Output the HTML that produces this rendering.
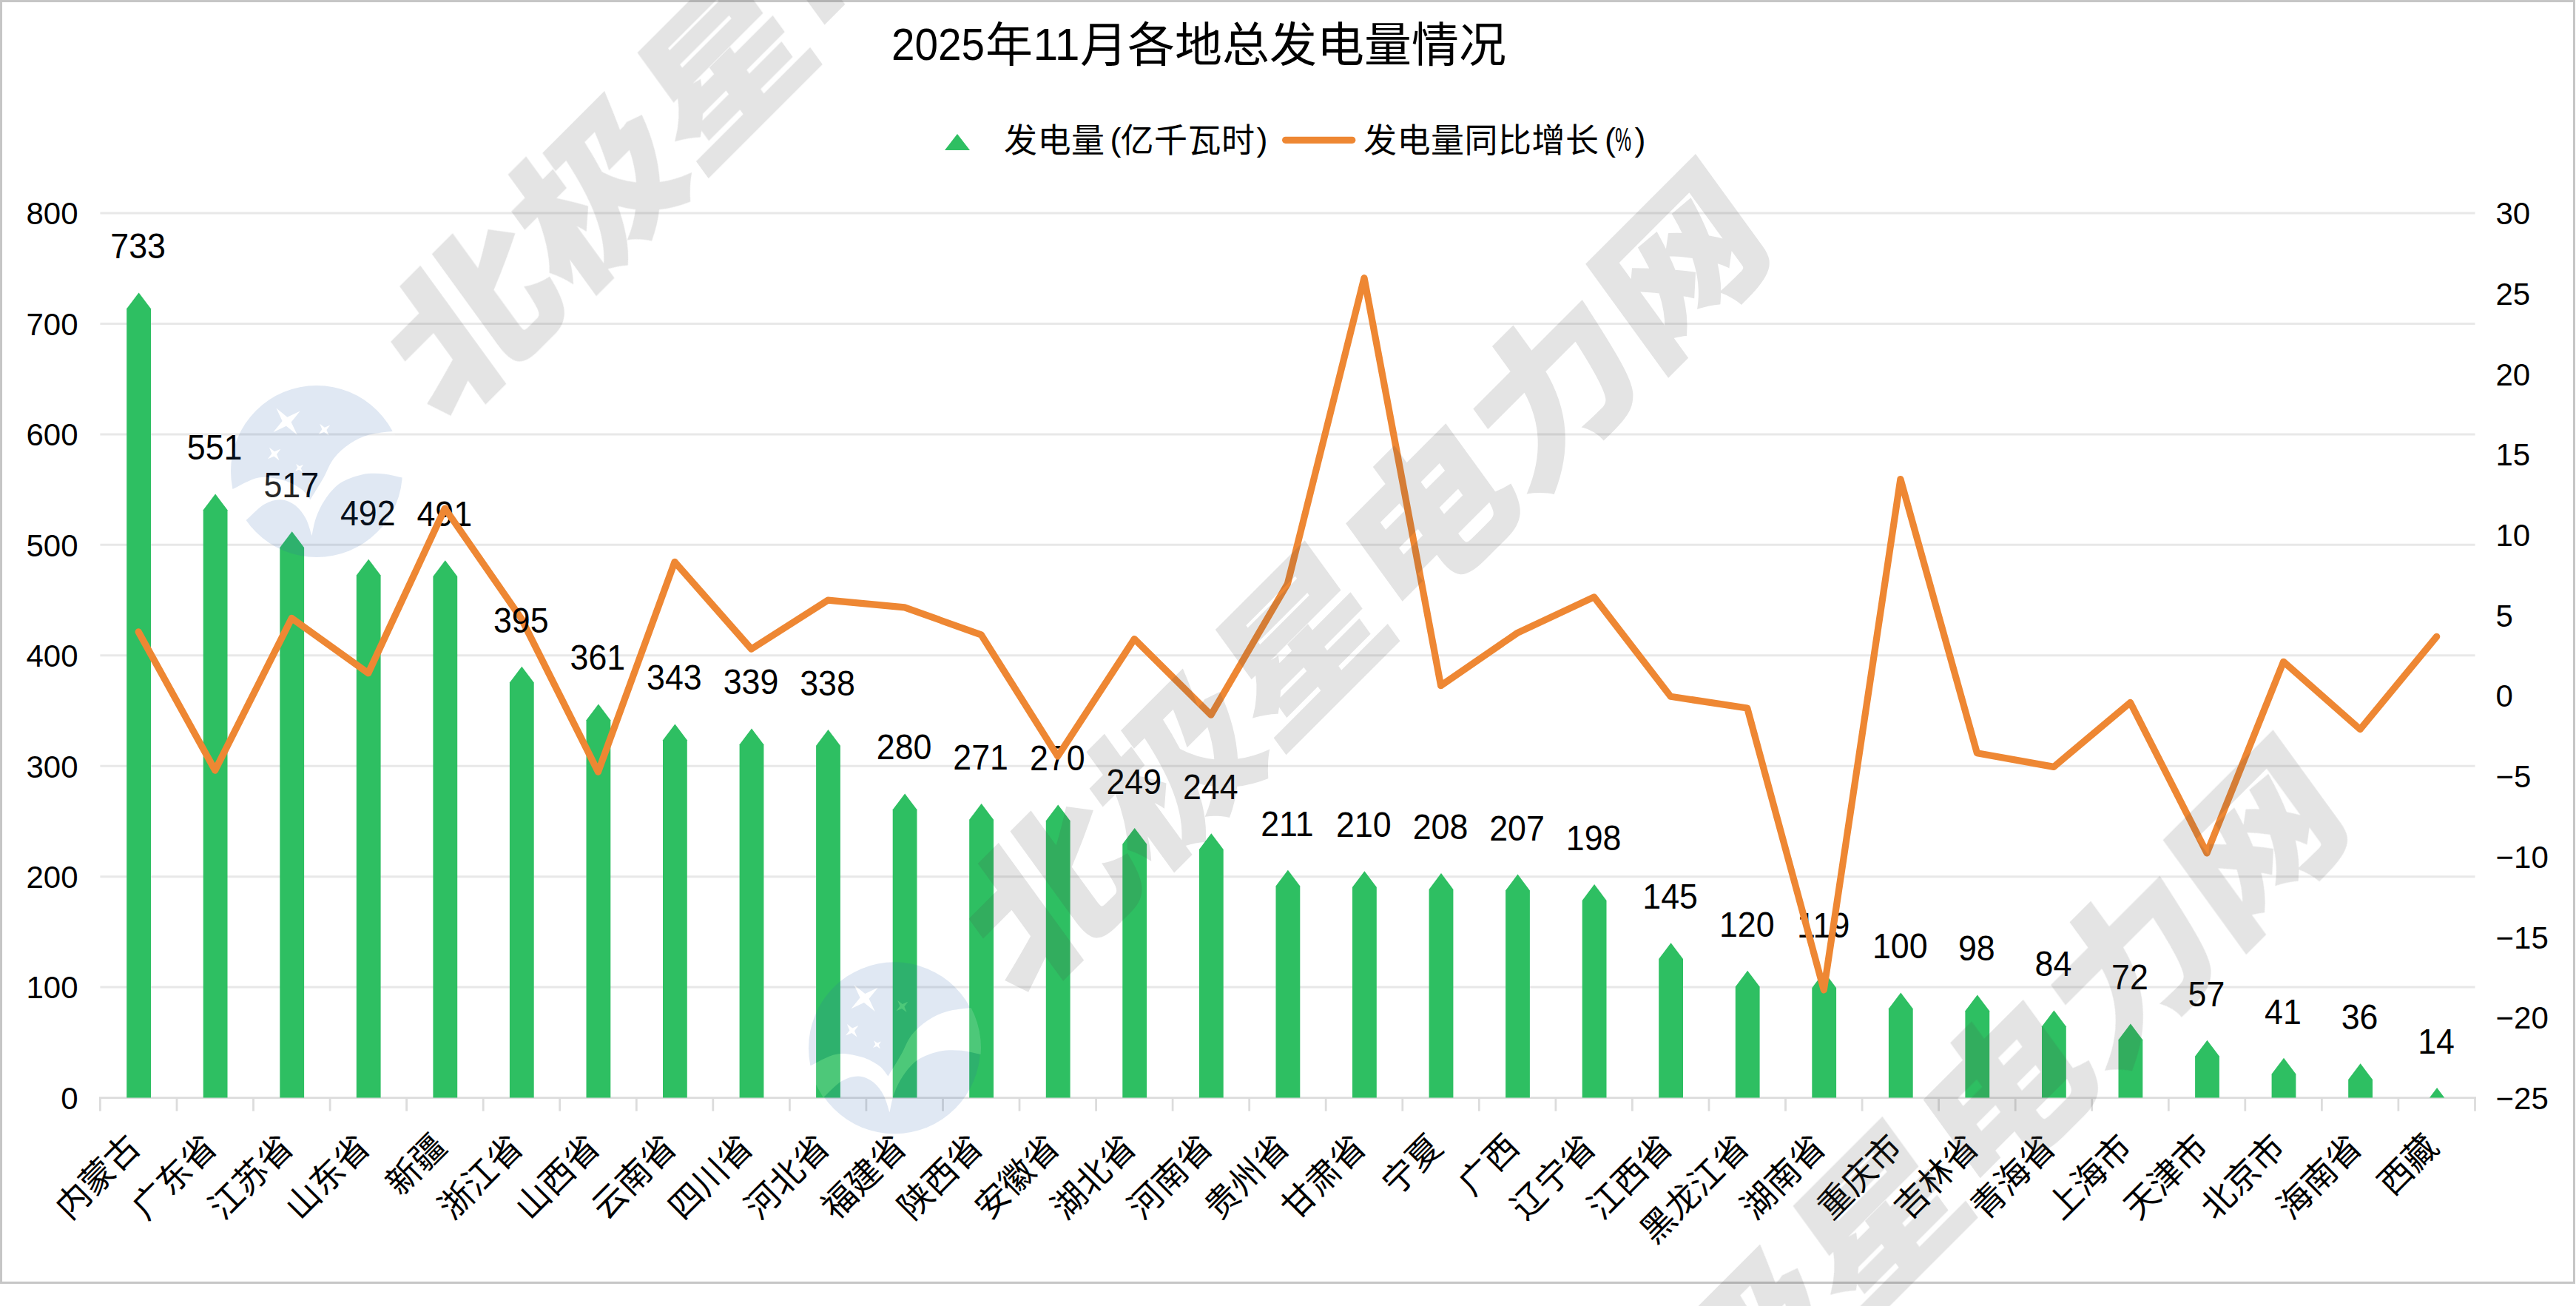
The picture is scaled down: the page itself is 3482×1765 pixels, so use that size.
<!DOCTYPE html>
<html lang="zh-CN"><head><meta charset="utf-8"><title>2025年11月各地总发电量情况</title>
<style>html,body{margin:0;padding:0;background:#fff;}body{width:3482px;height:1765px;overflow:hidden;}svg{display:block;}text{font-family:"Liberation Sans","Noto Sans CJK SC",sans-serif;fill:#000;}.ax{font-size:42px;}.dl{font-size:47.6px;}.xl{font-size:46px;}.lg{font-size:45px;letter-spacing:0.5px;}.tt{font-size:64px;}.wm{font-weight:900;font-size:241px;fill:#4b4b4b;stroke:#4b4b4b;stroke-width:3px;}</style></head><body>
<svg width="3482" height="1765" viewBox="0 0 3482 1765">
<rect x="0" y="0" width="3482" height="1765" fill="#fff"/>
<g stroke="#e8e8e8" stroke-width="3">
<line x1="135.4" y1="1334.1" x2="3345.5" y2="1334.1"/>
<line x1="135.4" y1="1184.7" x2="3345.5" y2="1184.7"/>
<line x1="135.4" y1="1035.2" x2="3345.5" y2="1035.2"/>
<line x1="135.4" y1="885.8" x2="3345.5" y2="885.8"/>
<line x1="135.4" y1="736.3" x2="3345.5" y2="736.3"/>
<line x1="135.4" y1="586.9" x2="3345.5" y2="586.9"/>
<line x1="135.4" y1="437.5" x2="3345.5" y2="437.5"/>
<line x1="135.4" y1="288.0" x2="3345.5" y2="288.0"/>
</g>
<g stroke="#dcdcdc" stroke-width="2.8">
<line x1="133.9" y1="1483.6" x2="3347.0" y2="1483.6"/>
<line x1="135.4" y1="1483.6" x2="135.4" y2="1501.6"/>
<line x1="239.0" y1="1483.6" x2="239.0" y2="1501.6"/>
<line x1="342.5" y1="1483.6" x2="342.5" y2="1501.6"/>
<line x1="446.1" y1="1483.6" x2="446.1" y2="1501.6"/>
<line x1="549.6" y1="1483.6" x2="549.6" y2="1501.6"/>
<line x1="653.2" y1="1483.6" x2="653.2" y2="1501.6"/>
<line x1="756.7" y1="1483.6" x2="756.7" y2="1501.6"/>
<line x1="860.3" y1="1483.6" x2="860.3" y2="1501.6"/>
<line x1="963.8" y1="1483.6" x2="963.8" y2="1501.6"/>
<line x1="1067.4" y1="1483.6" x2="1067.4" y2="1501.6"/>
<line x1="1170.9" y1="1483.6" x2="1170.9" y2="1501.6"/>
<line x1="1274.5" y1="1483.6" x2="1274.5" y2="1501.6"/>
<line x1="1378.0" y1="1483.6" x2="1378.0" y2="1501.6"/>
<line x1="1481.6" y1="1483.6" x2="1481.6" y2="1501.6"/>
<line x1="1585.1" y1="1483.6" x2="1585.1" y2="1501.6"/>
<line x1="1688.7" y1="1483.6" x2="1688.7" y2="1501.6"/>
<line x1="1792.2" y1="1483.6" x2="1792.2" y2="1501.6"/>
<line x1="1895.8" y1="1483.6" x2="1895.8" y2="1501.6"/>
<line x1="1999.3" y1="1483.6" x2="1999.3" y2="1501.6"/>
<line x1="2102.9" y1="1483.6" x2="2102.9" y2="1501.6"/>
<line x1="2206.4" y1="1483.6" x2="2206.4" y2="1501.6"/>
<line x1="2310.0" y1="1483.6" x2="2310.0" y2="1501.6"/>
<line x1="2413.5" y1="1483.6" x2="2413.5" y2="1501.6"/>
<line x1="2517.1" y1="1483.6" x2="2517.1" y2="1501.6"/>
<line x1="2620.6" y1="1483.6" x2="2620.6" y2="1501.6"/>
<line x1="2724.2" y1="1483.6" x2="2724.2" y2="1501.6"/>
<line x1="2827.7" y1="1483.6" x2="2827.7" y2="1501.6"/>
<line x1="2931.3" y1="1483.6" x2="2931.3" y2="1501.6"/>
<line x1="3034.8" y1="1483.6" x2="3034.8" y2="1501.6"/>
<line x1="3138.4" y1="1483.6" x2="3138.4" y2="1501.6"/>
<line x1="3241.9" y1="1483.6" x2="3241.9" y2="1501.6"/>
<line x1="3345.5" y1="1483.6" x2="3345.5" y2="1501.6"/>
</g>
<g class="ax" text-anchor="end">
<text x="105.5" y="1498.9">0</text>
<text x="105.5" y="1349.4">100</text>
<text x="105.5" y="1200.0">200</text>
<text x="105.5" y="1050.5">300</text>
<text x="105.5" y="901.1">400</text>
<text x="105.5" y="751.6">500</text>
<text x="105.5" y="602.2">600</text>
<text x="105.5" y="452.8">700</text>
<text x="105.5" y="303.3">800</text>
</g>
<g class="ax">
<text x="3373.5" y="303.3">30</text>
<text x="3373.5" y="412.0">25</text>
<text x="3373.5" y="520.7">20</text>
<text x="3373.5" y="629.4">15</text>
<text x="3373.5" y="738.1">10</text>
<text x="3373.5" y="846.8">5</text>
<text x="3373.5" y="955.4">0</text>
<text x="3373.5" y="1064.1">−5</text>
<text x="3373.5" y="1172.8">−10</text>
<text x="3373.5" y="1281.5">−15</text>
<text x="3373.5" y="1390.2">−20</text>
<text x="3373.5" y="1498.9">−25</text>
</g>
<g fill="#2ebf62">
<polygon points="171.2,1483.6 171.2,417.3 187.6,395.5 204.0,417.3 204.0,1483.6"/>
<polygon points="274.7,1483.6 274.7,689.3 291.1,667.5 307.5,689.3 307.5,1483.6"/>
<polygon points="378.3,1483.6 378.3,740.1 394.7,718.3 411.1,740.1 411.1,1483.6"/>
<polygon points="481.8,1483.6 481.8,777.5 498.2,755.7 514.6,777.5 514.6,1483.6"/>
<polygon points="585.4,1483.6 585.4,779.0 601.8,757.2 618.2,779.0 618.2,1483.6"/>
<polygon points="688.9,1483.6 688.9,922.5 705.3,900.7 721.7,922.5 721.7,1483.6"/>
<polygon points="792.5,1483.6 792.5,973.3 808.9,951.5 825.3,973.3 825.3,1483.6"/>
<polygon points="896.0,1483.6 896.0,1000.2 912.4,978.4 928.8,1000.2 928.8,1483.6"/>
<polygon points="999.6,1483.6 999.6,1006.2 1016.0,984.4 1032.4,1006.2 1032.4,1483.6"/>
<polygon points="1103.1,1483.6 1103.1,1007.7 1119.5,985.9 1135.9,1007.7 1135.9,1483.6"/>
<polygon points="1206.7,1483.6 1206.7,1094.3 1223.1,1072.5 1239.5,1094.3 1239.5,1483.6"/>
<polygon points="1310.2,1483.6 1310.2,1107.8 1326.6,1086.0 1343.0,1107.8 1343.0,1483.6"/>
<polygon points="1413.8,1483.6 1413.8,1109.3 1430.2,1087.5 1446.6,1109.3 1446.6,1483.6"/>
<polygon points="1517.3,1483.6 1517.3,1140.7 1533.7,1118.9 1550.1,1140.7 1550.1,1483.6"/>
<polygon points="1620.9,1483.6 1620.9,1148.1 1637.3,1126.3 1653.7,1148.1 1653.7,1483.6"/>
<polygon points="1724.5,1483.6 1724.5,1197.5 1740.9,1175.7 1757.3,1197.5 1757.3,1483.6"/>
<polygon points="1828.0,1483.6 1828.0,1199.0 1844.4,1177.2 1860.8,1199.0 1860.8,1483.6"/>
<polygon points="1931.6,1483.6 1931.6,1201.9 1948.0,1180.1 1964.4,1201.9 1964.4,1483.6"/>
<polygon points="2035.1,1483.6 2035.1,1203.4 2051.5,1181.6 2067.9,1203.4 2067.9,1483.6"/>
<polygon points="2138.7,1483.6 2138.7,1216.9 2155.1,1195.1 2171.5,1216.9 2171.5,1483.6"/>
<polygon points="2242.2,1483.6 2242.2,1296.1 2258.6,1274.3 2275.0,1296.1 2275.0,1483.6"/>
<polygon points="2345.8,1483.6 2345.8,1333.5 2362.2,1311.7 2378.6,1333.5 2378.6,1483.6"/>
<polygon points="2449.3,1483.6 2449.3,1335.0 2465.7,1313.2 2482.1,1335.0 2482.1,1483.6"/>
<polygon points="2552.9,1483.6 2552.9,1363.3 2569.3,1341.5 2585.7,1363.3 2585.7,1483.6"/>
<polygon points="2656.4,1483.6 2656.4,1366.3 2672.8,1344.5 2689.2,1366.3 2689.2,1483.6"/>
<polygon points="2760.0,1483.6 2760.0,1387.3 2776.4,1365.5 2792.8,1387.3 2792.8,1483.6"/>
<polygon points="2863.5,1483.6 2863.5,1405.2 2879.9,1383.4 2896.3,1405.2 2896.3,1483.6"/>
<polygon points="2967.1,1483.6 2967.1,1427.6 2983.5,1405.8 2999.9,1427.6 2999.9,1483.6"/>
<polygon points="3070.6,1483.6 3070.6,1451.5 3087.0,1429.7 3103.4,1451.5 3103.4,1483.6"/>
<polygon points="3174.2,1483.6 3174.2,1459.0 3190.6,1437.2 3207.0,1459.0 3207.0,1483.6"/>
<polygon points="3284.0,1483.6 3294.1,1470.1 3304.3,1483.6"/>
</g>
<g class="dl" text-anchor="middle">
<text transform="translate(186.6,349.4) scale(0.94,1)">733</text>
<text transform="translate(290.1,621.4) scale(0.94,1)">551</text>
<text transform="translate(393.7,672.2) scale(0.94,1)">517</text>
<text transform="translate(497.2,709.6) scale(0.94,1)">492</text>
<text transform="translate(600.8,711.1) scale(0.94,1)">491</text>
<text transform="translate(807.9,905.4) scale(0.94,1)">361</text>
<text transform="translate(911.4,932.3) scale(0.94,1)">343</text>
<text transform="translate(1015.0,938.3) scale(0.94,1)">339</text>
<text transform="translate(1118.5,939.8) scale(0.94,1)">338</text>
<text transform="translate(1222.1,1026.4) scale(0.94,1)">280</text>
<text transform="translate(1325.6,1039.9) scale(0.94,1)">271</text>
<text transform="translate(1429.2,1041.4) scale(0.94,1)">270</text>
<text transform="translate(1532.7,1072.8) scale(0.94,1)">249</text>
<text transform="translate(1636.3,1080.2) scale(0.94,1)">244</text>
<text transform="translate(1739.9,1129.6) scale(0.94,1)">211</text>
<text transform="translate(1843.4,1131.1) scale(0.94,1)">210</text>
<text transform="translate(1947.0,1134.0) scale(0.94,1)">208</text>
<text transform="translate(2050.5,1135.5) scale(0.94,1)">207</text>
<text transform="translate(2154.1,1149.0) scale(0.94,1)">198</text>
<text transform="translate(2257.6,1228.2) scale(0.94,1)">145</text>
<text transform="translate(2361.2,1265.6) scale(0.94,1)">120</text>
<text transform="translate(2464.7,1267.1) scale(0.94,1)">119</text>
<text transform="translate(2568.3,1295.4) scale(0.94,1)">100</text>
<text transform="translate(2671.8,1298.4) scale(0.94,1)">98</text>
<text transform="translate(2775.4,1319.4) scale(0.94,1)">84</text>
<text transform="translate(2878.9,1337.3) scale(0.94,1)">72</text>
<text transform="translate(2982.5,1359.7) scale(0.94,1)">57</text>
<text transform="translate(3086.0,1383.6) scale(0.94,1)">41</text>
<text transform="translate(3189.6,1391.1) scale(0.94,1)">36</text>
<text transform="translate(3293.1,1424.0) scale(0.94,1)">14</text>
</g>
<polyline points="187.2,853.9 290.7,1041.1 394.3,835.4 497.8,909.7 601.4,687.0 704.9,836.4 808.5,1043.2 912.0,759.4 1015.6,877.1 1119.1,811.2 1222.7,820.9 1326.2,857.8 1429.8,1022.1 1533.3,863.6 1636.9,966.2 1740.5,788.7 1844.0,375.7 1947.6,926.6 2051.1,855.4 2154.7,806.9 2258.2,941.3 2361.8,957.0 2465.3,1337.9 2568.9,647.5 2672.4,1017.7 2776.0,1036.4 2879.5,949.4 2983.1,1152.8 3086.6,894.3 3190.2,985.6 3293.7,860.3" fill="none" stroke="#ee8733" stroke-width="9.2" stroke-linejoin="round" stroke-linecap="round"/>
<g class="dl" text-anchor="middle">
<text transform="translate(704.3,854.6) scale(0.94,1)">395</text>
</g>
<g class="xl" text-anchor="end">
<text transform="translate(192.2,1553.0) rotate(-45)">内蒙古</text>
<text transform="translate(295.7,1553.0) rotate(-45)">广东省</text>
<text transform="translate(399.3,1553.0) rotate(-45)">江苏省</text>
<text transform="translate(502.8,1553.0) rotate(-45)">山东省</text>
<text transform="translate(606.4,1553.0) rotate(-45)">新疆</text>
<text transform="translate(709.9,1553.0) rotate(-45)">浙江省</text>
<text transform="translate(813.5,1553.0) rotate(-45)">山西省</text>
<text transform="translate(917.0,1553.0) rotate(-45)">云南省</text>
<text transform="translate(1020.6,1553.0) rotate(-45)">四川省</text>
<text transform="translate(1124.1,1553.0) rotate(-45)">河北省</text>
<text transform="translate(1227.7,1553.0) rotate(-45)">福建省</text>
<text transform="translate(1331.2,1553.0) rotate(-45)">陕西省</text>
<text transform="translate(1434.8,1553.0) rotate(-45)">安徽省</text>
<text transform="translate(1538.3,1553.0) rotate(-45)">湖北省</text>
<text transform="translate(1641.9,1553.0) rotate(-45)">河南省</text>
<text transform="translate(1745.5,1553.0) rotate(-45)">贵州省</text>
<text transform="translate(1849.0,1553.0) rotate(-45)">甘肃省</text>
<text transform="translate(1952.6,1553.0) rotate(-45)">宁夏</text>
<text transform="translate(2056.1,1553.0) rotate(-45)">广西</text>
<text transform="translate(2159.7,1553.0) rotate(-45)">辽宁省</text>
<text transform="translate(2263.2,1553.0) rotate(-45)">江西省</text>
<text transform="translate(2366.8,1553.0) rotate(-45)">黑龙江省</text>
<text transform="translate(2470.3,1553.0) rotate(-45)">湖南省</text>
<text transform="translate(2573.9,1553.0) rotate(-45)">重庆市</text>
<text transform="translate(2677.4,1553.0) rotate(-45)">吉林省</text>
<text transform="translate(2781.0,1553.0) rotate(-45)">青海省</text>
<text transform="translate(2884.5,1553.0) rotate(-45)">上海市</text>
<text transform="translate(2988.1,1553.0) rotate(-45)">天津市</text>
<text transform="translate(3091.6,1553.0) rotate(-45)">北京市</text>
<text transform="translate(3195.2,1553.0) rotate(-45)">海南省</text>
<text transform="translate(3298.7,1553.0) rotate(-45)">西藏</text>
</g>
<text class="tt" x="1268.0" y="80.5" style="font-size:60.2px" text-anchor="middle" textLength="126.1" lengthAdjust="spacingAndGlyphs">2025</text>
<text class="tt" x="1332.0" y="83.0">年</text>
<text class="tt" x="1428.0" y="80.5" style="font-size:60.2px" text-anchor="middle" textLength="63.0" lengthAdjust="spacingAndGlyphs">11</text>
<text class="tt" x="1460.0" y="83.0">月各地总发电量情况</text>
<polygon points="1277,203 1311,203 1294,181" fill="#2ebf62"/>
<text class="lg" x="1357.0" y="205.5">发电量</text>
<text class="lg" x="1508.2" y="203.5" text-anchor="middle">(</text>
<text class="lg" x="1514.5" y="205.5">亿千瓦时</text>
<text class="lg" x="1706.2" y="203.5" text-anchor="middle">)</text>
<line x1="1737.6" y1="189.3" x2="1827.8" y2="189.3" stroke="#ee8733" stroke-width="9.2" stroke-linecap="round"/>
<text class="lg" x="1843.0" y="205.5">发电量同比增长</text>
<text class="lg" x="2176.8" y="203.5" text-anchor="middle">(</text>
<text class="lg" x="2194.2" y="203.5" text-anchor="middle" textLength="22.1" lengthAdjust="spacingAndGlyphs">%</text>
<text class="lg" x="2217.2" y="203.5" text-anchor="middle">)</text>
<rect x="1.5" y="1.5" width="3478" height="1732" fill="none" stroke="#c6c6c6" stroke-width="3"/>
<defs><clipPath id="lc"><circle cx="0" cy="0" r="117"/></clipPath></defs>
<g opacity="0.15">
<g transform="translate(-781.0,-779.3)">
<g transform="translate(428,637)">
<circle cx="0" cy="0" r="116" fill="#3066af"/>
<g fill="#fff" clip-path="url(#lc)">
<path d="M-8.6,38.2 C-5.6,33.2 4.1,17.7 9.4,8.4 C14.7,-0.9 17.3,-9.9 23.3,-17.5 C29.3,-25.1 37.2,-32.1 45.2,-37.4 C53.2,-42.7 61.3,-46.6 71.1,-49.4 C80.9,-52.2 94.9,-53.2 103.9,-54.3 C112.9,-55.4 121.5,-55.7 125.0,-56.0 L125.0,9.0 C123.5,8.9 121.6,9.3 115.9,8.4 C110.2,7.5 100.1,4.1 91.0,3.4 C81.9,2.7 71.0,2.3 61.1,4.4 C51.1,6.6 39.6,10.7 31.3,16.3 C23.0,21.9 16.6,30.6 11.3,38.2 C6.0,45.8 2.4,54.0 -0.6,62.1 C-3.6,70.2 -5.6,82.8 -6.6,87.0 C-7.9,83.2 -10.8,70.9 -14.5,64.1 C-18.1,57.3 -22.9,50.5 -28.5,46.2 C-34.1,41.9 -41.4,38.5 -48.4,38.2 C-55.4,37.9 -62.8,39.9 -70.3,44.2 C-77.8,48.5 -86.6,58.1 -93.2,64.1 C-99.8,70.1 -107.2,77.3 -110.0,80.0 L-125.0,30.0 C-123.2,29.1 -121.9,27.9 -114.1,24.3 C-106.3,20.7 -89.8,10.4 -78.2,8.4 C-66.6,6.4 -54.0,9.7 -44.4,12.3 C-34.8,15.0 -26.5,20.0 -20.5,24.3 C-14.5,28.6 -10.6,35.9 -8.6,38.2 Z"/>
<polygon points="-22.3,-81.5 -34.4,-66.6 -26.2,-49.2 -41.1,-61.3 -58.5,-53.1 -46.4,-68.0 -54.6,-85.4 -39.7,-73.3"/>
<polygon points="18.3,-62.5 13.4,-55.9 16.6,-48.4 10.0,-53.3 2.5,-50.1 7.4,-56.7 4.2,-64.2 10.8,-59.3"/>
<polygon points="-48.6,-30.3 -54.0,-23.1 -50.5,-14.8 -57.7,-20.2 -66.0,-16.7 -60.6,-23.9 -64.1,-32.2 -56.9,-26.8"/>
<polygon points="-18.0,-8.9 -21.2,-4.3 -19.2,0.9 -23.8,-2.3 -29.0,-0.3 -25.8,-4.9 -27.8,-10.1 -23.2,-6.9"/>
</g></g>
<text class="wm" transform="translate(599,577.5) rotate(-45) skewX(-9) scale(1,0.86)">北极星电力网</text>
</g>
<g transform="translate(0.0,0.0)">
<g transform="translate(428,637)">
<circle cx="0" cy="0" r="116" fill="#3066af"/>
<g fill="#fff" clip-path="url(#lc)">
<path d="M-8.6,38.2 C-5.6,33.2 4.1,17.7 9.4,8.4 C14.7,-0.9 17.3,-9.9 23.3,-17.5 C29.3,-25.1 37.2,-32.1 45.2,-37.4 C53.2,-42.7 61.3,-46.6 71.1,-49.4 C80.9,-52.2 94.9,-53.2 103.9,-54.3 C112.9,-55.4 121.5,-55.7 125.0,-56.0 L125.0,9.0 C123.5,8.9 121.6,9.3 115.9,8.4 C110.2,7.5 100.1,4.1 91.0,3.4 C81.9,2.7 71.0,2.3 61.1,4.4 C51.1,6.6 39.6,10.7 31.3,16.3 C23.0,21.9 16.6,30.6 11.3,38.2 C6.0,45.8 2.4,54.0 -0.6,62.1 C-3.6,70.2 -5.6,82.8 -6.6,87.0 C-7.9,83.2 -10.8,70.9 -14.5,64.1 C-18.1,57.3 -22.9,50.5 -28.5,46.2 C-34.1,41.9 -41.4,38.5 -48.4,38.2 C-55.4,37.9 -62.8,39.9 -70.3,44.2 C-77.8,48.5 -86.6,58.1 -93.2,64.1 C-99.8,70.1 -107.2,77.3 -110.0,80.0 L-125.0,30.0 C-123.2,29.1 -121.9,27.9 -114.1,24.3 C-106.3,20.7 -89.8,10.4 -78.2,8.4 C-66.6,6.4 -54.0,9.7 -44.4,12.3 C-34.8,15.0 -26.5,20.0 -20.5,24.3 C-14.5,28.6 -10.6,35.9 -8.6,38.2 Z"/>
<polygon points="-22.3,-81.5 -34.4,-66.6 -26.2,-49.2 -41.1,-61.3 -58.5,-53.1 -46.4,-68.0 -54.6,-85.4 -39.7,-73.3"/>
<polygon points="18.3,-62.5 13.4,-55.9 16.6,-48.4 10.0,-53.3 2.5,-50.1 7.4,-56.7 4.2,-64.2 10.8,-59.3"/>
<polygon points="-48.6,-30.3 -54.0,-23.1 -50.5,-14.8 -57.7,-20.2 -66.0,-16.7 -60.6,-23.9 -64.1,-32.2 -56.9,-26.8"/>
<polygon points="-18.0,-8.9 -21.2,-4.3 -19.2,0.9 -23.8,-2.3 -29.0,-0.3 -25.8,-4.9 -27.8,-10.1 -23.2,-6.9"/>
</g></g>
<text class="wm" transform="translate(599,577.5) rotate(-45) skewX(-9) scale(1,0.86)">北极星电力网</text>
</g>
<g transform="translate(781.0,779.3)">
<g transform="translate(428,637)">
<circle cx="0" cy="0" r="116" fill="#3066af"/>
<g fill="#fff" clip-path="url(#lc)">
<path d="M-8.6,38.2 C-5.6,33.2 4.1,17.7 9.4,8.4 C14.7,-0.9 17.3,-9.9 23.3,-17.5 C29.3,-25.1 37.2,-32.1 45.2,-37.4 C53.2,-42.7 61.3,-46.6 71.1,-49.4 C80.9,-52.2 94.9,-53.2 103.9,-54.3 C112.9,-55.4 121.5,-55.7 125.0,-56.0 L125.0,9.0 C123.5,8.9 121.6,9.3 115.9,8.4 C110.2,7.5 100.1,4.1 91.0,3.4 C81.9,2.7 71.0,2.3 61.1,4.4 C51.1,6.6 39.6,10.7 31.3,16.3 C23.0,21.9 16.6,30.6 11.3,38.2 C6.0,45.8 2.4,54.0 -0.6,62.1 C-3.6,70.2 -5.6,82.8 -6.6,87.0 C-7.9,83.2 -10.8,70.9 -14.5,64.1 C-18.1,57.3 -22.9,50.5 -28.5,46.2 C-34.1,41.9 -41.4,38.5 -48.4,38.2 C-55.4,37.9 -62.8,39.9 -70.3,44.2 C-77.8,48.5 -86.6,58.1 -93.2,64.1 C-99.8,70.1 -107.2,77.3 -110.0,80.0 L-125.0,30.0 C-123.2,29.1 -121.9,27.9 -114.1,24.3 C-106.3,20.7 -89.8,10.4 -78.2,8.4 C-66.6,6.4 -54.0,9.7 -44.4,12.3 C-34.8,15.0 -26.5,20.0 -20.5,24.3 C-14.5,28.6 -10.6,35.9 -8.6,38.2 Z"/>
<polygon points="-22.3,-81.5 -34.4,-66.6 -26.2,-49.2 -41.1,-61.3 -58.5,-53.1 -46.4,-68.0 -54.6,-85.4 -39.7,-73.3"/>
<polygon points="18.3,-62.5 13.4,-55.9 16.6,-48.4 10.0,-53.3 2.5,-50.1 7.4,-56.7 4.2,-64.2 10.8,-59.3"/>
<polygon points="-48.6,-30.3 -54.0,-23.1 -50.5,-14.8 -57.7,-20.2 -66.0,-16.7 -60.6,-23.9 -64.1,-32.2 -56.9,-26.8"/>
<polygon points="-18.0,-8.9 -21.2,-4.3 -19.2,0.9 -23.8,-2.3 -29.0,-0.3 -25.8,-4.9 -27.8,-10.1 -23.2,-6.9"/>
</g></g>
<text class="wm" transform="translate(599,577.5) rotate(-45) skewX(-9) scale(1,0.86)">北极星电力网</text>
</g>
<g transform="translate(1562.0,1558.6)">
<g transform="translate(428,637)">
<circle cx="0" cy="0" r="116" fill="#3066af"/>
<g fill="#fff" clip-path="url(#lc)">
<path d="M-8.6,38.2 C-5.6,33.2 4.1,17.7 9.4,8.4 C14.7,-0.9 17.3,-9.9 23.3,-17.5 C29.3,-25.1 37.2,-32.1 45.2,-37.4 C53.2,-42.7 61.3,-46.6 71.1,-49.4 C80.9,-52.2 94.9,-53.2 103.9,-54.3 C112.9,-55.4 121.5,-55.7 125.0,-56.0 L125.0,9.0 C123.5,8.9 121.6,9.3 115.9,8.4 C110.2,7.5 100.1,4.1 91.0,3.4 C81.9,2.7 71.0,2.3 61.1,4.4 C51.1,6.6 39.6,10.7 31.3,16.3 C23.0,21.9 16.6,30.6 11.3,38.2 C6.0,45.8 2.4,54.0 -0.6,62.1 C-3.6,70.2 -5.6,82.8 -6.6,87.0 C-7.9,83.2 -10.8,70.9 -14.5,64.1 C-18.1,57.3 -22.9,50.5 -28.5,46.2 C-34.1,41.9 -41.4,38.5 -48.4,38.2 C-55.4,37.9 -62.8,39.9 -70.3,44.2 C-77.8,48.5 -86.6,58.1 -93.2,64.1 C-99.8,70.1 -107.2,77.3 -110.0,80.0 L-125.0,30.0 C-123.2,29.1 -121.9,27.9 -114.1,24.3 C-106.3,20.7 -89.8,10.4 -78.2,8.4 C-66.6,6.4 -54.0,9.7 -44.4,12.3 C-34.8,15.0 -26.5,20.0 -20.5,24.3 C-14.5,28.6 -10.6,35.9 -8.6,38.2 Z"/>
<polygon points="-22.3,-81.5 -34.4,-66.6 -26.2,-49.2 -41.1,-61.3 -58.5,-53.1 -46.4,-68.0 -54.6,-85.4 -39.7,-73.3"/>
<polygon points="18.3,-62.5 13.4,-55.9 16.6,-48.4 10.0,-53.3 2.5,-50.1 7.4,-56.7 4.2,-64.2 10.8,-59.3"/>
<polygon points="-48.6,-30.3 -54.0,-23.1 -50.5,-14.8 -57.7,-20.2 -66.0,-16.7 -60.6,-23.9 -64.1,-32.2 -56.9,-26.8"/>
<polygon points="-18.0,-8.9 -21.2,-4.3 -19.2,0.9 -23.8,-2.3 -29.0,-0.3 -25.8,-4.9 -27.8,-10.1 -23.2,-6.9"/>
</g></g>
<text class="wm" transform="translate(599,577.5) rotate(-45) skewX(-9) scale(1,0.86)">北极星电力网</text>
</g>
</g>
</svg></body></html>
